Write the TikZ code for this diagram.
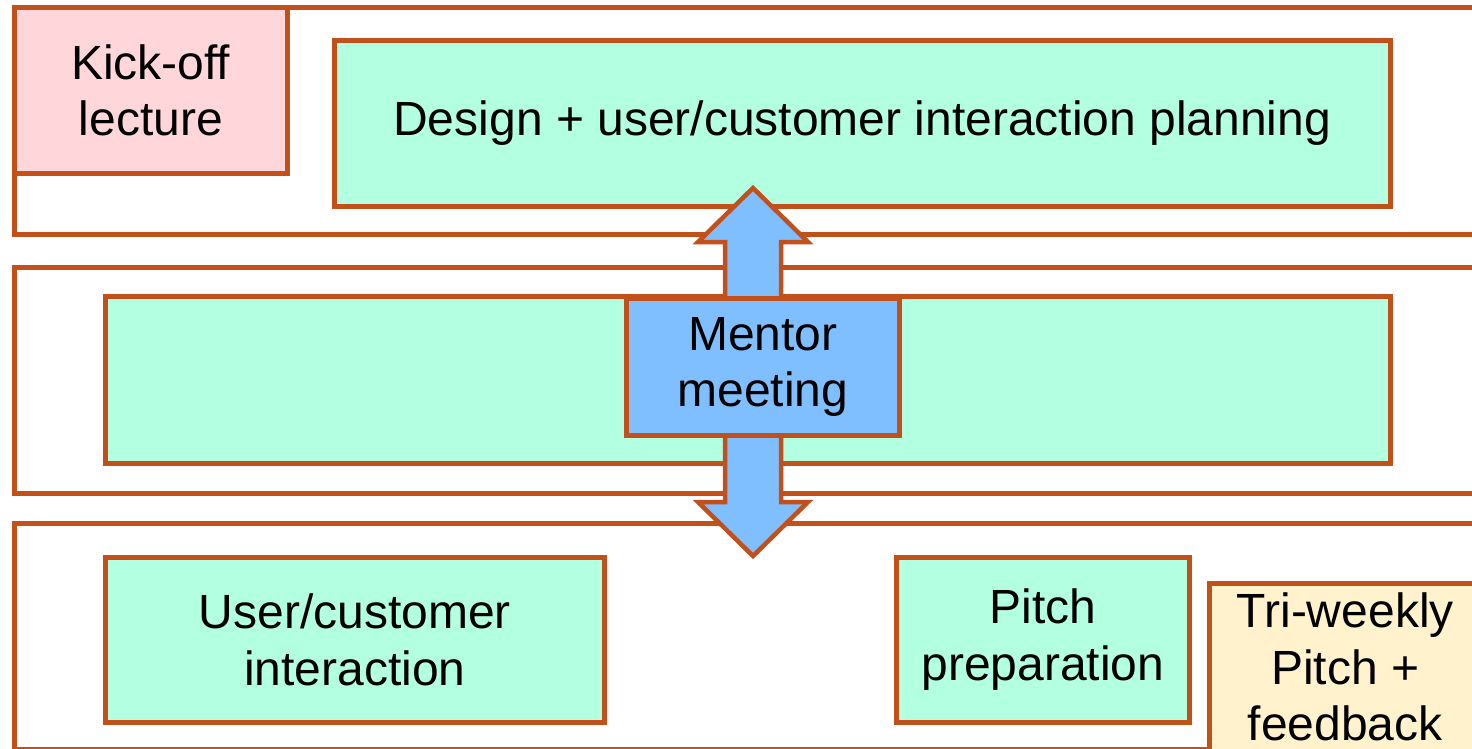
\documentclass[tikz,border=0pt]{standalone}
\usepackage{fontspec}
\setmainfont{Liberation Sans}
\definecolor{edge}{HTML}{C1501A}
\definecolor{mint}{HTML}{B3FFE1}
\definecolor{pinkf}{HTML}{FFD6DA}
\definecolor{bluef}{HTML}{80BFFF}
\definecolor{creamf}{HTML}{FFF2CC}
\begin{document}
\begin{tikzpicture}[x=1pt,y=-1pt,
  box/.style={draw=edge,line width=4.5pt,rectangle,inner sep=0pt,align=center,
    font=\fontsize{48}{56.5}\selectfont,anchor=north west},
  band/.style={box,fill=white},
  act/.style={box,fill=mint}]
\useasboundingbox (0,0) rectangle (1472,748);
\clip (0,0) rectangle (1472,748);
% bands
\node[band,minimum width=1500pt,minimum height=227pt] (b1) at (12,5) {};
\node[band,minimum width=1500pt,minimum height=226pt] (b2) at (12,265) {};
\node[band,minimum width=1500pt,minimum height=226pt] (b3) at (12,521) {};
% top row
\node[box,fill=pinkf,minimum width=273pt,minimum height=166pt] (kick) at (12,5) {Kick-off\\lecture};
\node[act,minimum width=1056pt,minimum height=166pt] (design) at (332,38) {Design + user/customer interaction planning};
% middle
\node[act,minimum width=1285pt,minimum height=167pt] (work) at (103,294) {};
% bottom
\node[act,minimum width=499pt,minimum height=165pt] (user) at (103,555) {User/customer\\interaction};
\node[act,minimum width=293pt,minimum height=165pt] (pitch) at (894,555) {Pitch\\preparation};
\node[box,fill=creamf,minimum width=272pt,minimum height=168pt] (tri) at (1207,581) {Tri-weekly\\Pitch +\\feedback};
% double arrow
\coordinate (tipU) at (753,188);
\coordinate (tipD) at (753,556);
\draw[draw=edge,fill=bluef,line width=4.5pt,line join=miter]
  (tipU) -- (808,242) -- (781,242) -- (781,502) -- (808,502) -- (tipD)
  -- (698,502) -- (725,502) -- (725,242) -- (698,242) -- cycle;
% mentor
\node[box,fill=bluef,minimum width=273pt,minimum height=137pt] (mentor) at (624,296) {Mentor\\meeting};
\end{tikzpicture}
\end{document}
